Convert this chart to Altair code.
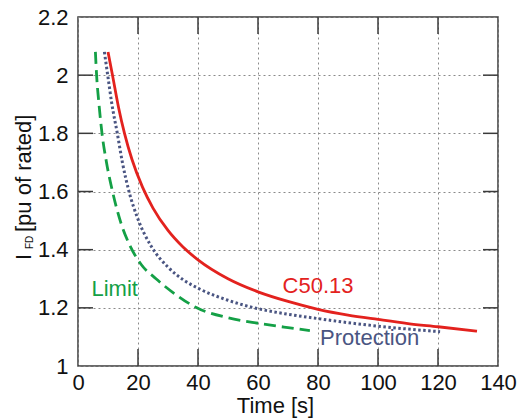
import altair as alt
import pandas as pd

# ---- data ----
c5013_t = [10.0, 11.5, 13.5, 15.5, 18, 21.5, 25, 30, 35, 40, 50, 60, 70, 80, 90, 100, 110, 120, 133]
c5013_i = [2.08, 2.0, 1.89, 1.80, 1.71, 1.615, 1.543, 1.466, 1.409, 1.365, 1.30, 1.255, 1.222, 1.195, 1.175, 1.16, 1.146, 1.135, 1.12]

prot_t = [8.8, 9.9, 11.3, 13.1, 14.8, 17, 19.8, 24.5, 30, 35, 40.7, 50, 60, 70, 80, 90, 100, 110, 120.7]
prot_i = [2.08, 2.0, 1.9, 1.8, 1.7, 1.6, 1.51, 1.41, 1.34, 1.297, 1.264, 1.226, 1.197, 1.178, 1.163, 1.149, 1.137, 1.127, 1.118]

limit_t = [5.8, 6.2, 7.0, 8.0, 9.5, 11.5, 14.3, 17.6, 21, 26, 32, 39.6, 50, 60, 70, 77.3]
limit_i = [2.08, 2.0, 1.9, 1.8, 1.7, 1.6, 1.492, 1.408, 1.35, 1.3, 1.25, 1.2, 1.166, 1.147, 1.132, 1.122]

label_text = ["C50.13", "Protection", "Limit"]
label_t = [68.2, 80.7, 4.5]
label_i = [1.251, 1.072, 1.239]
label_color = ["#e3221e", "#4a5582", "#14a046"]

x_ticks = [0, 20, 40, 60, 80, 100, 120, 140]
y_ticks = [1, 1.2, 1.4, 1.6, 1.8, 2, 2.2]
inner_x = [20, 40, 60, 80, 100, 120]
inner_y = [1.2, 1.4, 1.6, 1.8, 2.0]

FONT = "Liberation Sans"
W, H = 420, 349

xs = alt.Scale(domain=[0, 140], nice=False, zero=False)
ys = alt.Scale(domain=[1, 2.2], nice=False, zero=False)

x_axis = alt.Axis(values=x_ticks, title="Time [s]", domain=False, ticks=False, tickSize=0,
                  grid=True, gridDash=[2, 3], gridColor="#8a8a8a", gridWidth=1,
                  labelFont=FONT, labelFontSize=22, labelColor="#111", labelPadding=6,
                  labelFlush=False,
                  titleFont=FONT, titleFontSize=22, titleFontWeight="normal", titleColor="#111",
                  titleX=197, titleY=46, titleBaseline="alphabetic", titleAnchor="middle")
y_axis = alt.Axis(values=y_ticks, title="", domain=False, ticks=False, tickSize=0,
                  grid=True, gridDash=[2, 3], gridColor="#8a8a8a", gridWidth=1,
                  labelFont=FONT, labelFontSize=22, labelColor="#111", labelPadding=10,
                  labelFlush=False, format="~g")


def X():
    return alt.X("t:Q", scale=xs, axis=x_axis)


def Y():
    return alt.Y("I:Q", scale=ys, axis=y_axis)


def series(t, i):
    return pd.DataFrame({"t": t, "I": i})


red = alt.Chart(series(c5013_t, c5013_i)).mark_line(
    color="#e3221e", strokeWidth=2.8, interpolate="monotone"
).encode(x=X(), y=Y())

prot = alt.Chart(series(prot_t, prot_i)).mark_line(
    color="#4a5582", strokeWidth=3, strokeDash=[2.5, 2.5], interpolate="monotone"
).encode(x=X(), y=Y())

lim = alt.Chart(series(limit_t, limit_i)).mark_line(
    color="#14a046", strokeWidth=2.8, strokeDash=[12, 6], interpolate="monotone"
).encode(x=X(), y=Y())

labels = alt.Chart(pd.DataFrame({"t": label_t, "I": label_i, "txt": label_text, "c": label_color})).mark_text(
    font=FONT, fontSize=22, align="left", baseline="alphabetic"
).encode(x=X(), y=Y(), text="txt:N", color=alt.Color("c:N", scale=None))

# inward ticks on all four sides
ydf = pd.DataFrame({"I": inner_y})
xdf = pd.DataFrame({"t": inner_x})
tick_style = dict(color="#3a3a3a", strokeWidth=1.5)
t_left = alt.Chart(ydf).mark_rule(**tick_style).encode(
    y=Y(), x=alt.value(0), x2=alt.value(15))
t_right = alt.Chart(ydf).mark_rule(**tick_style).encode(
    y=Y(), x=alt.value(W - 15), x2=alt.value(W))
t_bottom = alt.Chart(xdf).mark_rule(**tick_style).encode(
    x=X(), y=alt.value(H - 17), y2=alt.value(H))
t_top = alt.Chart(xdf).mark_rule(**tick_style).encode(
    x=X(), y=alt.value(0), y2=alt.value(17))

# y axis title with subscript
one = pd.DataFrame({"a": [0]})
yt_I = alt.Chart(one).mark_text(text="I", font=FONT, fontSize=22, angle=270, align="left",
                                baseline="alphabetic", color="#111").encode(
    x=alt.value(-47), y=alt.value(243))
yt_FD = alt.Chart(one).mark_text(text="FD", font=FONT, fontSize=10, angle=270, align="left",
                                 baseline="alphabetic", color="#111").encode(
    x=alt.value(-45), y=alt.value(232))
yt_rest = alt.Chart(one).mark_text(text="[pu of rated]", font=FONT, fontSize=22, angle=270,
                                   align="left", baseline="alphabetic", color="#111").encode(
    x=alt.value(-47), y=alt.value(215))

chart = alt.layer(
    red, prot, lim, labels, t_left, t_right, t_bottom, t_top, yt_I, yt_FD, yt_rest
).properties(
    width=W, height=H,
    autosize=alt.AutoSizeParams(type="none"),
    padding={"left": 78, "top": 17, "right": 28, "bottom": 53},
    background="white",
).configure_view(stroke="#3a3a3a", strokeWidth=1.5)

chart.save("out.html", embed_options={"renderer": "svg", "actions": False})
